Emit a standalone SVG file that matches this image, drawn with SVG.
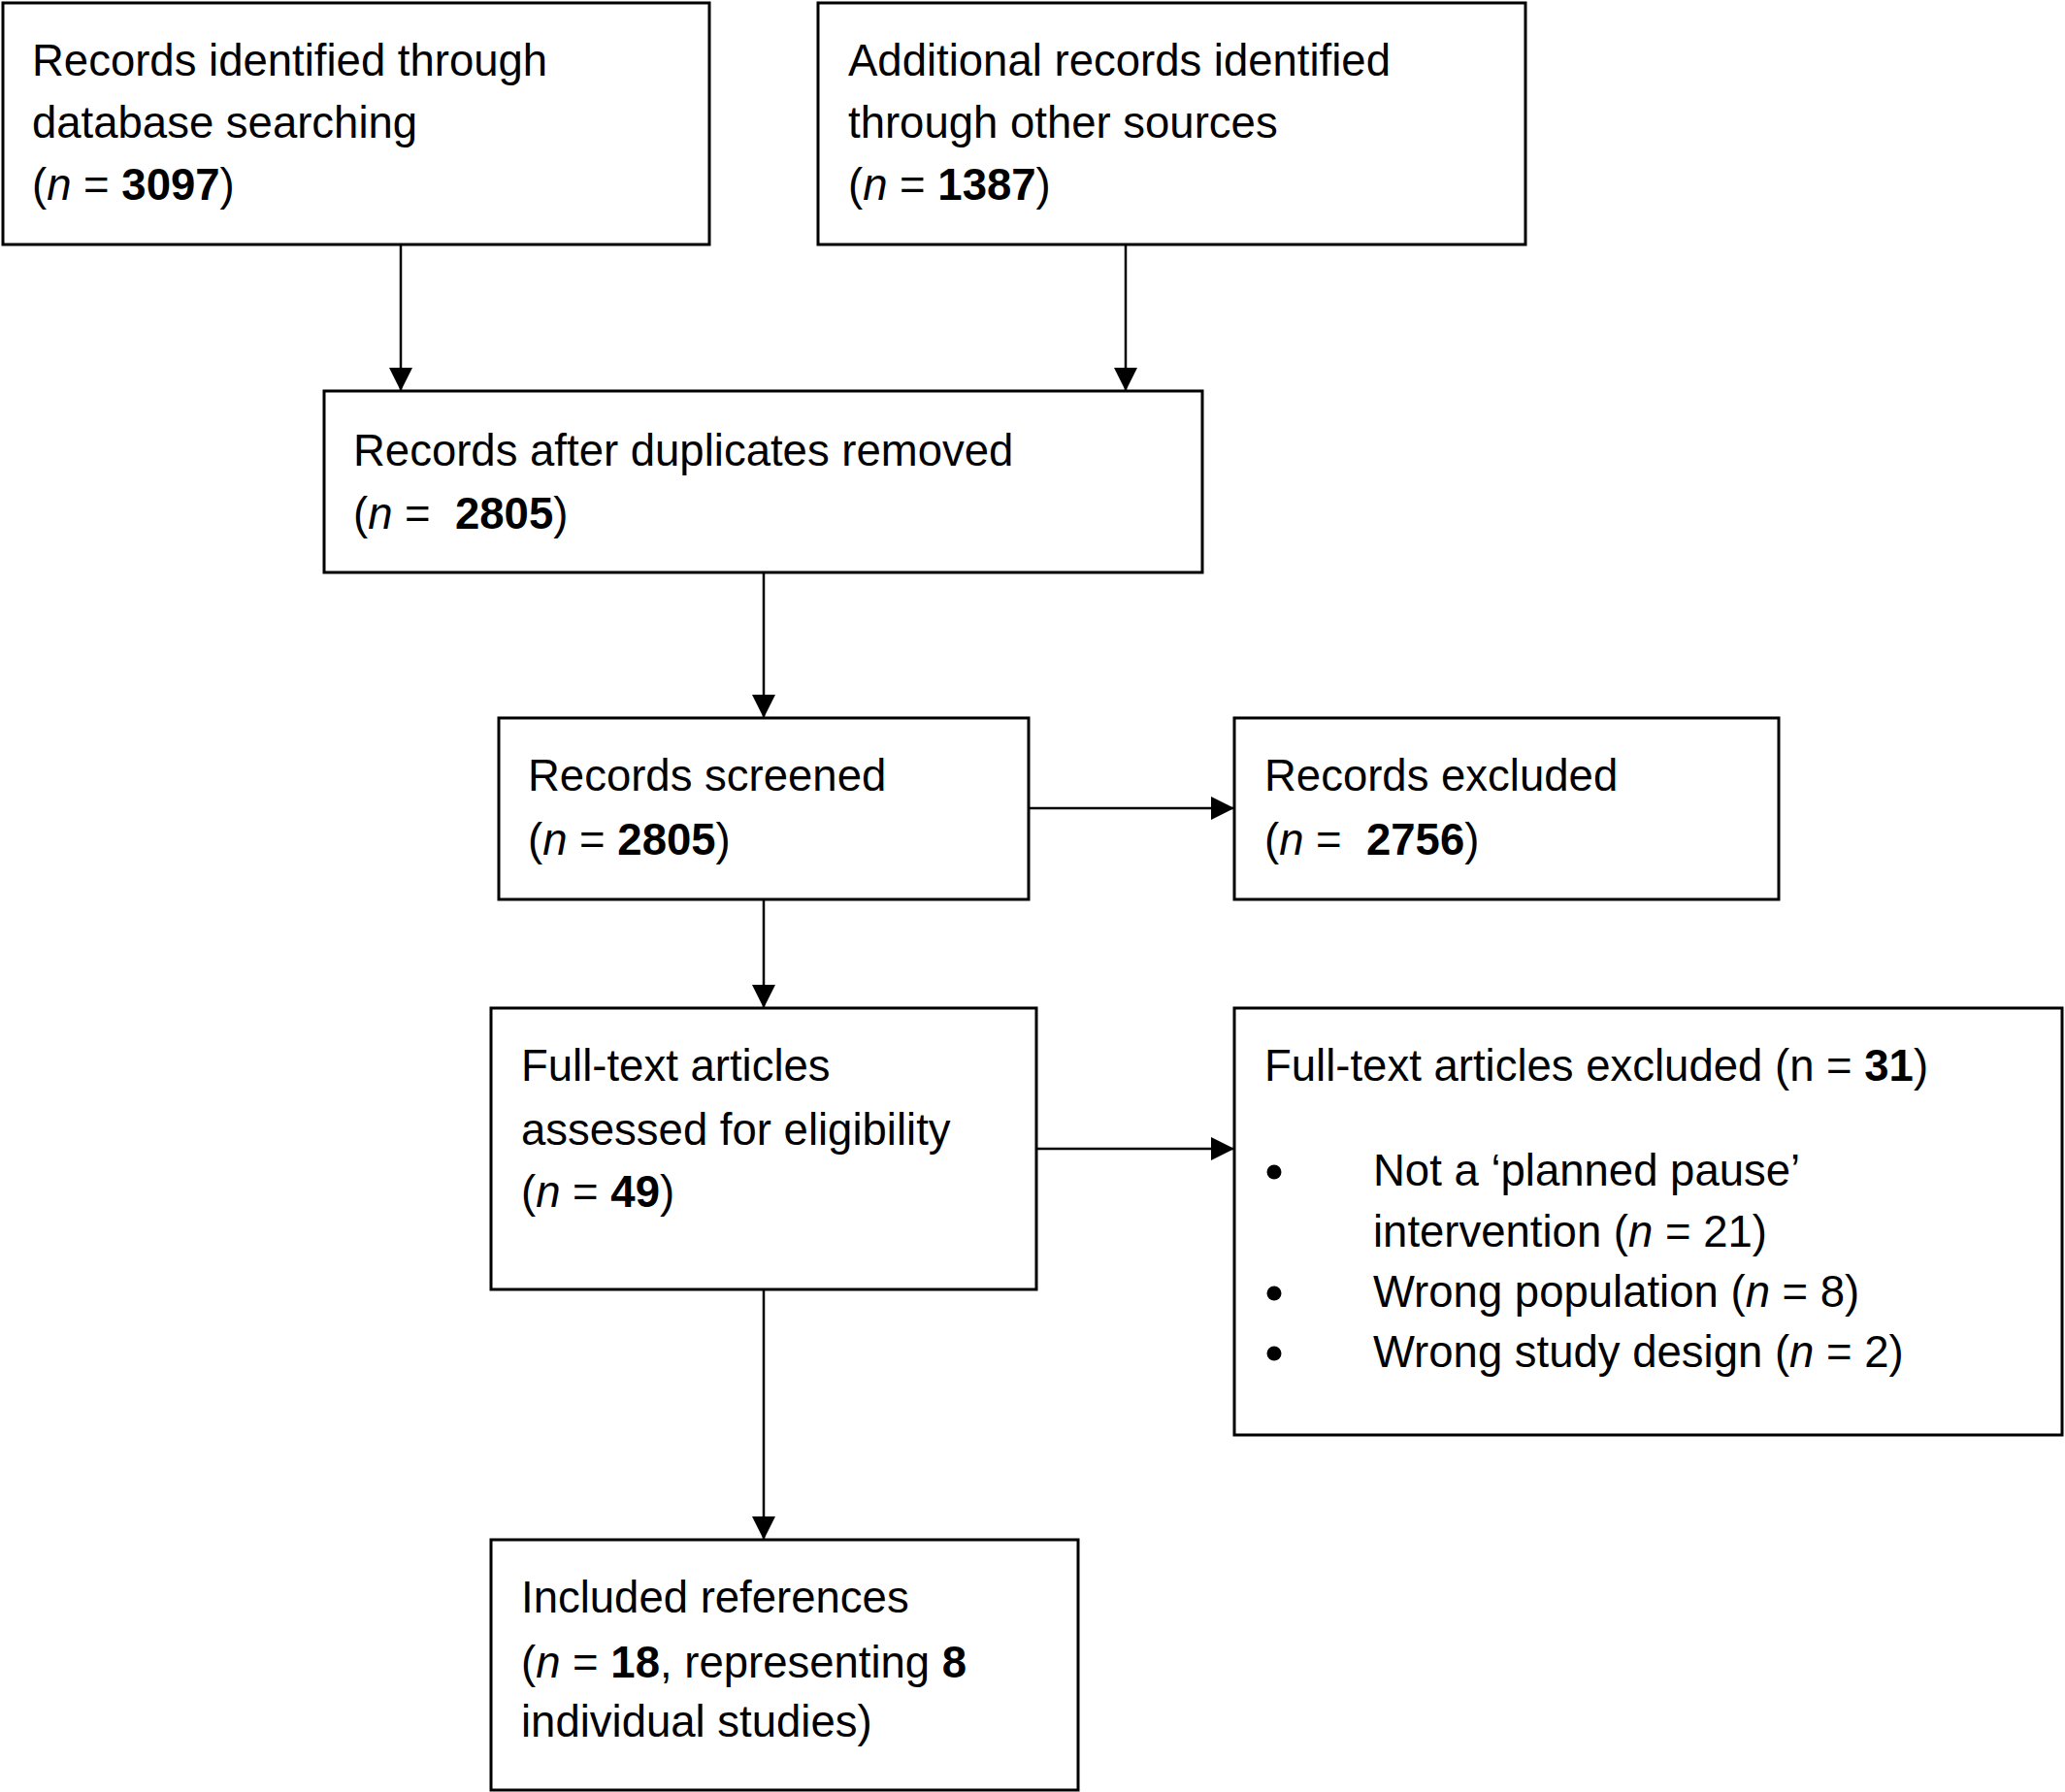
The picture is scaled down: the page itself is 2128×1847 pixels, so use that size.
<svg xmlns="http://www.w3.org/2000/svg" width="2128" height="1847" viewBox="0 0 2128 1847">
<style>
.box{fill:#fff;stroke:#000;stroke-width:3}
.t{font-family:"Liberation Sans",Arial,Helvetica,sans-serif;font-size:45.5px;fill:#000}
.b{font-weight:bold}
.i{font-style:italic}
.c{stroke:#000;stroke-width:2.5;fill:none}
.dot{fill:#000}
</style>
<defs>
<marker id="ah" markerUnits="userSpaceOnUse" markerWidth="24" markerHeight="24" viewBox="0 0 24 24" refX="24" refY="12" orient="auto">
<path d="M0,0 L24,12 L0,24 Z" fill="#000"/>
</marker>
</defs>
<rect width="2128" height="1847" fill="#fff"/>
<g id="connectors">
<line class="c" x1="413" y1="252" x2="413" y2="403" marker-end="url(#ah)"/>
<line class="c" x1="1160" y1="252" x2="1160" y2="403" marker-end="url(#ah)"/>
<line class="c" x1="787" y1="590" x2="787" y2="740" marker-end="url(#ah)"/>
<line class="c" x1="1060" y1="833" x2="1272" y2="833" marker-end="url(#ah)"/>
<line class="c" x1="787" y1="927" x2="787" y2="1039" marker-end="url(#ah)"/>
<line class="c" x1="1068" y1="1184" x2="1272" y2="1184" marker-end="url(#ah)"/>
<line class="c" x1="787" y1="1329" x2="787" y2="1587" marker-end="url(#ah)"/>
</g>
<g id="n1">
<rect class="box" x="3" y="3" width="728" height="249"/>
<text class="t" x="33" y="78">Records identified through</text>
<text class="t" x="33" y="142">database searching</text>
<text class="t" x="33" y="206">(<tspan class="i">n</tspan> = <tspan class="b">3097</tspan>)</text>
</g>
<g id="n2">
<rect class="box" x="843" y="3" width="729" height="249"/>
<text class="t" x="874" y="78">Additional records identified</text>
<text class="t" x="874" y="142">through other sources</text>
<text class="t" x="874" y="206">(<tspan class="i">n</tspan> = <tspan class="b">1387</tspan>)</text>
</g>
<g id="n3">
<rect class="box" x="334" y="403" width="905" height="187"/>
<text class="t" x="364" y="480">Records after duplicates removed</text>
<text class="t" x="364" y="545">(<tspan class="i">n</tspan> =&#160; <tspan class="b">2805</tspan>)</text>
</g>
<g id="n4">
<rect class="box" x="514" y="740" width="546" height="187"/>
<text class="t" x="544" y="815">Records screened</text>
<text class="t" x="544" y="881">(<tspan class="i">n</tspan> = <tspan class="b">2805</tspan>)</text>
</g>
<g id="n5">
<rect class="box" x="1272" y="740" width="561" height="187"/>
<text class="t" x="1303" y="815">Records excluded</text>
<text class="t" x="1303" y="881">(<tspan class="i">n</tspan> =&#160; <tspan class="b">2756</tspan>)</text>
</g>
<g id="n6">
<rect class="box" x="506" y="1039" width="562" height="290"/>
<text class="t" x="537" y="1114">Full-text articles</text>
<text class="t" x="537" y="1180">assessed for eligibility</text>
<text class="t" x="537" y="1244">(<tspan class="i">n</tspan> = <tspan class="b">49</tspan>)</text>
</g>
<g id="n7">
<rect class="box" x="1272" y="1039" width="853" height="440"/>
<text class="t" x="1303" y="1114">Full-text articles excluded (n = <tspan class="b">31</tspan>)</text>
<circle class="dot" cx="1313" cy="1208" r="7.5"/>
<text class="t" x="1415" y="1222">Not a ‘planned pause’</text>
<text class="t" x="1415" y="1285">intervention (<tspan class="i">n</tspan> = 21)</text>
<circle class="dot" cx="1313" cy="1333" r="7.5"/>
<text class="t" x="1415" y="1347">Wrong population (<tspan class="i">n</tspan> = 8)</text>
<circle class="dot" cx="1313" cy="1395" r="7.5"/>
<text class="t" x="1415" y="1409">Wrong study design (<tspan class="i">n</tspan> = 2)</text>
</g>
<g id="n8">
<rect class="box" x="506" y="1587" width="605" height="258"/>
<text class="t" x="537" y="1662">Included references</text>
<text class="t" x="537" y="1729">(<tspan class="i">n</tspan> = <tspan class="b">18</tspan>, representing <tspan class="b">8</tspan></text>
<text class="t" x="537" y="1790">individual studies)</text>
</g>
</svg>
